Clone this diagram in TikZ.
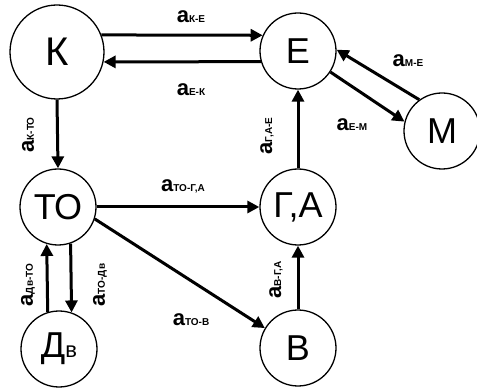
\documentclass[tikz,border=0pt]{standalone}
\usepackage{fontspec}
\setmainfont{Liberation Sans}
\usepackage{tikz}
\usetikzlibrary{arrows.meta}

\newcommand{\koef}[1]{{\bfseries\fontsize{22}{22}\selectfont a}{\fontsize{10}{10}\selectfont\bfseries #1}}

\begin{document}
\begin{tikzpicture}[x=1pt, y=-1pt,
    state/.style={draw, circle, line width=1.3pt, minimum size=76pt, inner sep=0pt,
                  font=\fontsize{36}{36}\selectfont},
    flow/.style={line width=3pt, -{Triangle[length=12pt, width=12pt]}},
    coef/.style={inner sep=0pt}]
  \useasboundingbox (0,0) rectangle (477,390);

  \node[state, minimum size=94pt, font=\fontsize{40}{40}\selectfont]
      (K)  at (57,52)   {К};
  \node[state] (E)  at (298,51)  {Е};
  \node[state] (M)  at (442,131) {М};
  \node[state] (TO) at (58,207)  {ТО};
  \node[state] (GA) at (298,207) {Г,А};
  \node[state] (DV) at (59,349)
      {Д{\fontsize{22}{22}\selectfont в}};
  \node[state] (B)  at (298,348) {В};

  \draw[flow] (K.21)   -- (E.156);
  \draw[flow] (E.196)  -- (K.348);
  \draw[flow] (M.126)  -- (E.2);
  \draw[flow] (E.-33)  -- (M.166);
  \draw[flow] (K.south) -- (TO.north);
  \draw[flow] (GA.north) -- (E.south);
  \draw[flow] (TO.east) -- (GA.west);
  \draw[flow] (TO.-18) -- (B.149);
  \draw[flow] (B.north) -- (GA.south);
  \draw[flow] (DV.107) -- (TO.-107);
  \draw[flow] (TO.-71) -- (DV.71);

  \node[coef] (lKE)   at (191,17)  {\koef{К-Е}};
  \node[coef] (lEK)   at (191,90)  {\koef{Е-К}};
  \node[coef] (lME)   at (408,61)  {\koef{М-Е}};
  \node[coef] (lEM)   at (352,125) {\koef{Е-М}};
  \node[coef, rotate=90] (lKTO)  at (28,135)  {\koef{К-ТО}};
  \node[coef, rotate=90] (lGAE)  at (267,136) {\koef{Г,А-Е}};
  \node[coef] (lTOGA) at (183,186) {\koef{ТО-Г,А}};
  \node[coef] (lTOB)  at (191,320) {\koef{ТО-В}};
  \node[coef, rotate=90] (lDVTO) at (28,285)  {\koef{Дв-ТО}};
  \node[coef, rotate=90] (lTODV) at (100,285) {\koef{ТО-Дв}};
  \node[coef, rotate=90] (lBGA)  at (276,280) {\koef{В-Г,А}};
\end{tikzpicture}
\end{document}
